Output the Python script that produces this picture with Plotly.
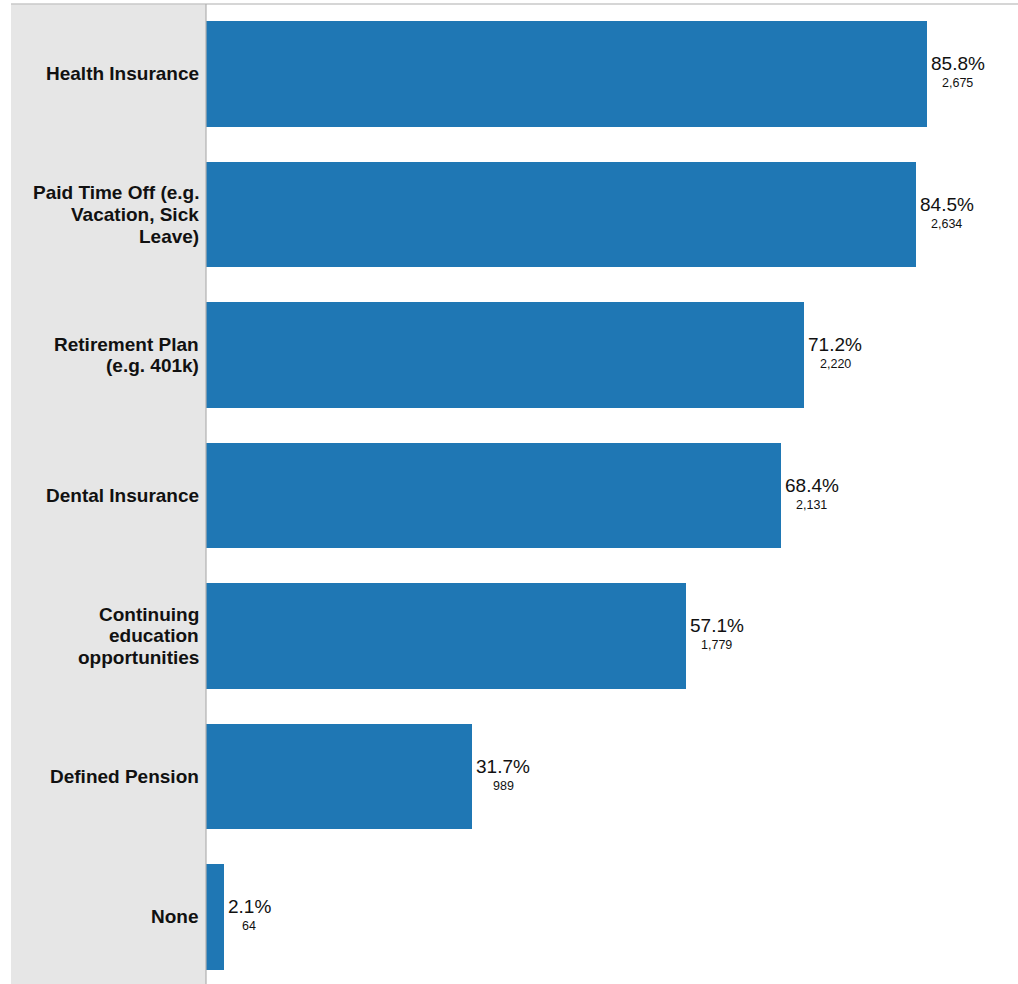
import plotly.graph_objects as go

# Benefits offered, share of respondents and counts
categories = [
    "Health Insurance",
    "Paid Time Off (e.g. Vacation, Sick Leave)",
    "Retirement Plan (e.g. 401k)",
    "Dental Insurance",
    "Continuing education opportunities",
    "Defined Pension",
    "None",
]
# Wrapped row-header text for each category
label_lines = [
    ["Health Insurance"],
    ["Paid Time Off (e.g.", "Vacation, Sick", "Leave)"],
    ["Retirement Plan", "(e.g. 401k)"],
    ["Dental Insurance"],
    ["Continuing", "education", "opportunities"],
    ["Defined Pension"],
    ["None"],
]
percents = [85.8, 84.5, 71.2, 68.4, 57.1, 31.7, 2.1]
counts = [2675, 2634, 2220, 2131, 1779, 989, 64]

W, H = 1018, 984
L, T = 206, 4
plot_w = W - L
FONT = "Arial, Liberation Sans, sans-serif"
PCT_SIZE = 19
CNT_SIZE = 12.5
LBL_SIZE = 19
LINE_H = 21.8

# Approximate Arial advance widths (em) for the label characters
ADV = {d: 0.556 for d in "0123456789"}
ADV.update({".": 0.278, "%": 0.889, ",": 0.278})


def text_width(s, size):
    return sum(ADV.get(ch, 0.556) for ch in s) * size


fig = go.Figure(
    go.Bar(
        x=percents,
        y=categories,
        orientation="h",
        width=0.754,
        marker=dict(color="#1f77b4", line=dict(width=0)),
        hoverinfo="skip",
    )
)

# Value labels: percentage with the count centred underneath
for cat, p, c in zip(categories, percents, counts):
    pct = f"{p:.1f}%"
    w = text_width(pct, PCT_SIZE)
    fig.add_annotation(
        x=p, y=cat, xref="x", yref="y", text=pct,
        showarrow=False, xanchor="left", yanchor="middle",
        xshift=2, yshift=10,
        font=dict(family=FONT, size=PCT_SIZE, color="#111111"),
    )
    fig.add_annotation(
        x=p, y=cat, xref="x", yref="y", text=f"{c:,}",
        showarrow=False, xanchor="center", yanchor="middle",
        xshift=4 + w / 2, yshift=-9.5,
        font=dict(family=FONT, size=CNT_SIZE, color="#111111"),
    )

# Row headers, one annotation per wrapped line
for cat, lines in zip(categories, label_lines):
    n = len(lines)
    for i, line in enumerate(lines):
        fig.add_annotation(
            x=0, y=cat, xref="paper", yref="y", text=line,
            showarrow=False, xanchor="right", yanchor="middle",
            xshift=-5, yshift=((n - 1) / 2 - i) * LINE_H,
            font=dict(family=FONT, size=LBL_SIZE, color="#111111", weight="bold"),
        )

# Grey row-header panel behind the category labels
panel_x0 = (11 - L) / plot_w
fig.add_shape(type="rect", xref="paper", yref="paper",
              x0=panel_x0, x1=0, y0=-0.01, y1=1,
              fillcolor="#e6e6e6", line=dict(width=0), layer="below")
# Top rule and axis divider
fig.add_shape(type="line", xref="paper", yref="paper",
              x0=panel_x0, x1=1, y0=1, y1=1,
              line=dict(color="#c8c8c8", width=1.5))
fig.add_shape(type="line", xref="paper", yref="paper",
              x0=0, x1=0, y0=-0.01, y1=1,
              line=dict(color="#b0b0b0", width=1.2))

fig.update_layout(
    width=W, height=H,
    margin=dict(l=L, r=0, t=T, b=0),
    paper_bgcolor="white", plot_bgcolor="white",
    showlegend=False,
    bargap=0,
    xaxis=dict(range=[0, plot_w / 8.403], visible=False, fixedrange=True),
    yaxis=dict(
        type="category",
        range=[6.477, -0.498],
        showgrid=False, zeroline=False, showline=False,
        ticks="", showticklabels=False,
        fixedrange=True,
    ),
)

fig.write_html("out.html", config={"displayModeBar": False})
